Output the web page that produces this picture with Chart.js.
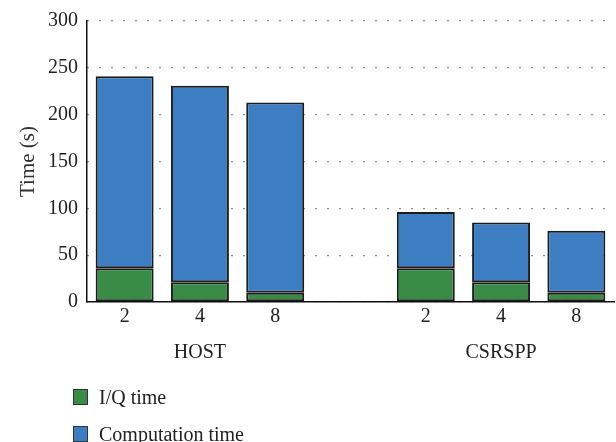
<!DOCTYPE html>
<html lang="en">
<head>
    <meta charset="UTF-8">
    <title>Time per node count</title>
    <script src="https://cdn.jsdelivr.net/npm/chart.js"></script>
    <style>
        html, body {
            margin: 0;
            padding: 0;
            background: #ffffff;
            font-family: "Liberation Serif", "DejaVu Serif", serif;
        }

        .wrap {
            position: relative;
            width: 616px;
            height: 442px;
        }

        #legend {
            position: absolute;
            left: 73px;
            top: 388px;
            font-size: 20px;
            color: #222;
        }

        .legend-item {
            display: flex;
            align-items: center;
            height: 18px;
            margin-bottom: 19px;
        }

        .legend-box {
            width: 13px;
            height: 14px;
            border: 1px solid #333;
            margin-right: 11px;
        }
    </style>
</head>
<body>
    <div class="wrap">
        <canvas id="chart" width="616" height="442"></canvas>
        <div id="legend"></div>
    </div>

    <script>
        // categories: node counts, with an empty slot between the two systems
        const categories = ['2', '4', '8', '', '2', '4', '8'];
        const groupLabels = ['', 'HOST', '', '', '', 'CSRSPP', ''];

        const iqTime = [36, 21, 10, null, 36, 21, 10];
        const computationTime = [205, 210, 203, null, 60, 64, 66];

        const yTicks = [0, 50, 100, 150, 200, 250, 300];

        const seriesNames = ['I/Q time', 'Computation time'];
        const seriesColors = ['#3a8b45', '#3d7dc1'];

        const font = { family: '"Liberation Serif", "DejaVu Serif", serif', size: 20 };

        const datasets = [iqTime, computationTime].map((vals, i) => ({
            label: seriesNames[i],
            data: vals,
            backgroundColor: seriesColors[i],
            borderColor: '#1c1c1c',
            borderWidth: 2,
            borderSkipped: false,
            barPercentage: 0.77,
            categoryPercentage: 1.0
        }));

        new Chart(document.getElementById('chart').getContext('2d'), {
            type: 'bar',
            data: { labels: categories, datasets: datasets },
            options: {
                responsive: false,
                animation: false,
                layout: { padding: { top: 14, right: 2, bottom: 80, left: 0 } },
                plugins: {
                    legend: { display: false },
                    tooltip: { enabled: false }
                },
                scales: {
                    x: {
                        stacked: true,
                        grid: { display: false, drawTicks: false },
                        border: { display: true, color: '#111', width: 1.5 },
                        ticks: { font: font, color: '#222', padding: 3, maxRotation: 0, minRotation: 0 },
                        afterFit: s => { s.height = 30; }
                    },
                    x2: {
                        type: 'category',
                        labels: groupLabels,
                        position: 'bottom',
                        grid: { display: false, drawTicks: false },
                        border: { display: false },
                        ticks: { font: font, color: '#222', padding: 9, autoSkip: false, maxRotation: 0, minRotation: 0 },
                        afterFit: s => { s.height = 30; }
                    },
                    y: {
                        stacked: true,
                        min: 0,
                        max: 300,
                        afterBuildTicks: s => { s.ticks = yTicks.map(v => ({ value: v })); },
                        grid: { color: '#222', lineWidth: 1.3, drawTicks: false },
                        border: { display: true, color: '#111', width: 1.5, dash: [1, 11] },
                        ticks: { font: font, color: '#222', padding: 9 },
                        title: { display: true, text: 'Time (s)', font: { family: font.family, size: 21 }, color: '#333', padding: { top: 16, bottom: 0 } },
                        afterFit: s => { s.width = 87; }
                    }
                }
            }
        });

        // legend below the chart, one row per series
        const legend = document.getElementById('legend');
        seriesNames.forEach((name, i) => {
            const item = document.createElement('div');
            item.className = 'legend-item';
            item.innerHTML = `<span class="legend-box" style="background:${seriesColors[i]}"></span>${name}`;
            legend.appendChild(item);
        });
    </script>
</body>
</html>
